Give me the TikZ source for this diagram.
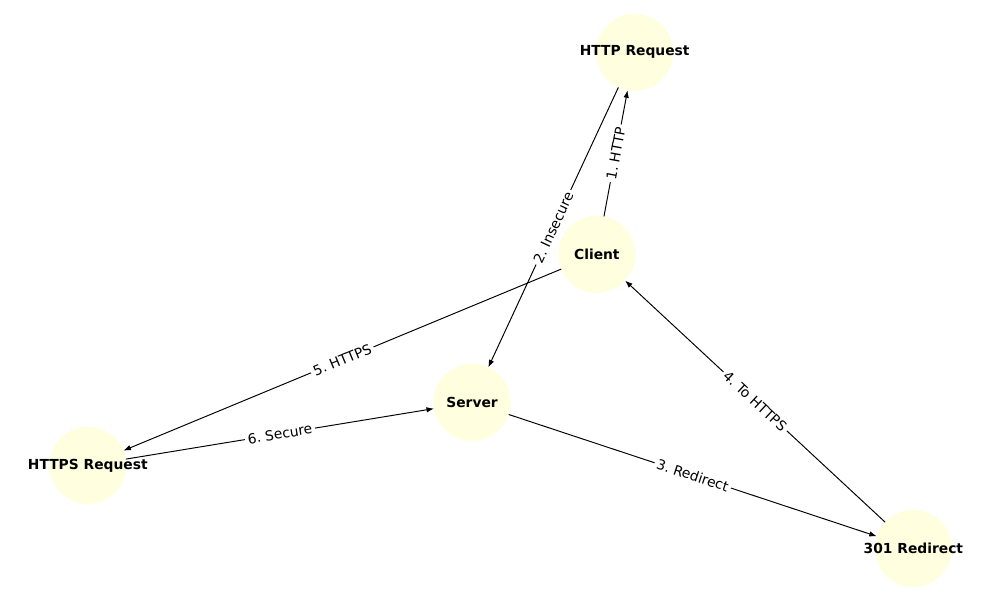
\documentclass[tikz,border=0pt]{standalone}
\usepackage{fontspec}
\setmainfont{DejaVu Sans}
\usetikzlibrary{arrows.meta}
\definecolor{lightyellow}{HTML}{FFFFE0}
\frenchspacing
\begin{document}
\begin{tikzpicture}[
    state/.style={circle, fill=lightyellow, minimum size=1.96cm, inner sep=0pt, outer sep=0pt},
    edge/.style={line width=0.7pt, -{Latex[length=1.9mm,width=1.4mm]}},
    elabel/.style={sloped, fill=white, inner sep=2pt, font=\normalsize}
  ]
    \useasboundingbox (0,0) rectangle (25.4,15.24);
    \node[state, label={[font=\bfseries]center:HTTP Request}] (http) at (16.12,13.91) {};
    \node[state, label={[font=\bfseries]center:Client}] (client) at (15.16,8.78) {};
    \node[state, label={[font=\bfseries]center:Server}] (server) at (11.99,5.02) {};
    \node[state, label={[font=\bfseries]center:HTTPS Request}] (https) at (2.23,3.42) {};
    \node[state, label={[font=\bfseries]center:301 Redirect}] (redirect) at (23.20,1.31) {};
    \draw[edge] (client) -- node[elabel] {1. HTTP} (http);
    \draw[edge] (http) -- node[elabel] {2. Insecure} (server);
    \draw[edge] (server) -- node[elabel] {3. Redirect} (redirect);
    \draw[edge] (redirect) -- node[elabel] {4. To HTTPS} (client);
    \draw[edge] (client) -- node[elabel] {5. HTTPS} (https);
    \draw[edge] (https) -- node[elabel] {6. Secure} (server);
  \end{tikzpicture}
\end{document}
